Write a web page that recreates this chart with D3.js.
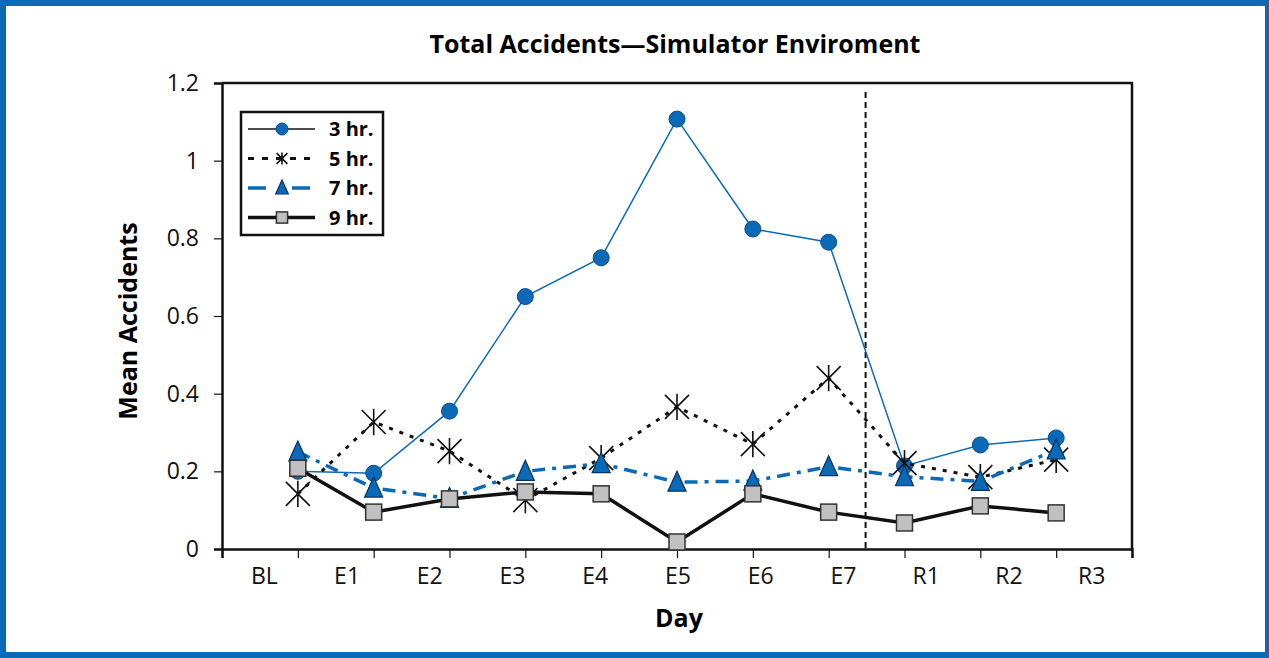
<!DOCTYPE html>
<html lang="en">
<head>
<meta charset="utf-8">
<title>Total Accidents - Simulator Enviroment</title>
<script src="https://d3js.org/d3.v7.min.js"></script>
<style>
  body { margin: 0; background: #fff; }
  svg { display: block; font-family: "Open Sans", "Noto Sans", sans-serif; }
  .axis text { font-family: "Open Sans", "Noto Sans", sans-serif; font-size: 23px; fill: #111; }
  .axis path, .axis line { stroke: #111; }
</style>
</head>
<body>
<script>
// data
var days = ["BL", "E1", "E2", "E3", "E4", "E5", "E6", "E7", "R1", "R2", "R3"];
var yTicks = [0, 0.2, 0.4, 0.6, 0.8, 1, 1.2];
var hr3 = [0.20, 0.195, 0.355, 0.65, 0.75, 1.107, 0.824, 0.79, 0.214, 0.268, 0.286];
var hr5 = [0.142, 0.327, 0.252, 0.126, 0.234, 0.366, 0.27, 0.44, 0.221, 0.185, 0.23];
var hr7 = [0.25, 0.157, 0.13, 0.20, 0.22, 0.172, 0.175, 0.212, 0.186, 0.174, 0.255];
var hr9 = [0.208, 0.095, 0.129, 0.147, 0.142, 0.018, 0.142, 0.095, 0.067, 0.111, 0.093];
var seriesNames = ["3 hr.", "5 hr.", "7 hr.", "9 hr."];

var width = 1269, height = 658;
var blue = "#0a6ab8";

var svg = d3.select("body").append("svg")
    .attr("width", width)
    .attr("height", height);

// outer blue frame
svg.append("rect")
    .attr("x", 3).attr("y", 3)
    .attr("width", 1265).attr("height", 652)
    .attr("fill", "none")
    .attr("stroke", blue)
    .attr("stroke-width", 6);

var plotL = 222, plotR = 1132, plotT = 83, plotB = 549;

// points sit on ticks -1..11, labels sit in 11 bands
var x = d3.scaleLinear().domain([-1, 11]).range([plotL, plotR]);
var xLab = d3.scaleBand().domain(days).range([plotL, plotR]);
var y = d3.scaleLinear().domain([0, 1.2]).range([plotB, plotT]);

// plot box top and right
svg.append("path")
    .attr("d", "M" + plotL + "," + plotT + "H" + plotR + "V" + plotB)
    .attr("fill", "none")
    .attr("stroke", "#111")
    .attr("stroke-width", 2.5);

// y axis
var yAxis = svg.append("g")
    .attr("class", "axis")
    .attr("transform", "translate(" + plotL + ",0)")
    .call(d3.axisLeft(y).tickValues(yTicks).tickSize(8).tickPadding(15)
        .tickFormat(function(d) { return String(+d.toFixed(1)); }));
yAxis.select(".domain").attr("stroke-width", 2.5);
yAxis.selectAll(".tick line").attr("stroke-width", 1.2);

// x axis ticks
var xAxis = svg.append("g")
    .attr("class", "axis")
    .attr("transform", "translate(0," + plotB + ")")
    .call(d3.axisBottom(x).ticks(12).tickSize(9).tickFormat(""));
xAxis.select(".domain").attr("stroke-width", 2.5);
xAxis.selectAll(".tick line").attr("stroke-width", 1.2);

// x labels
svg.append("g").attr("class", "axis").selectAll("text")
    .data(days)
    .enter().append("text")
    .attr("x", function(d) { return xLab(d) + xLab.bandwidth() / 2 + 1; })
    .attr("y", plotB + 35)
    .attr("text-anchor", "middle")
    .text(function(d) { return d; });

// dashed separator between E7 and R1
svg.append("line")
    .attr("x1", (x(7) + x(8)) / 2 - 1).attr("x2", (x(7) + x(8)) / 2 - 1)
    .attr("y1", plotT + 9).attr("y2", plotB)
    .attr("stroke", "#111")
    .attr("stroke-width", 2)
    .attr("stroke-dasharray", "6,4");

// titles
svg.append("text")
    .attr("x", 675).attr("y", 53)
    .attr("text-anchor", "middle")
    .attr("font-size", 25).attr("font-weight", "bold")
    .text("Total Accidents\u2014Simulator Enviroment");

svg.append("text")
    .attr("transform", "translate(137,321) rotate(-90)")
    .attr("text-anchor", "middle")
    .attr("font-size", 25).attr("font-weight", "bold")
    .text("Mean Accidents");

svg.append("text")
    .attr("x", 679).attr("y", 627)
    .attr("text-anchor", "middle")
    .attr("font-size", 25).attr("font-weight", "bold")
    .text("Day");

// marker drawers
function drawMarker(g, type, s) {
    if (type === "circle") {
        g.append("circle").attr("r", 8 * s)
            .attr("fill", blue).attr("stroke", "#0a4f8a").attr("stroke-width", 1);
    } else if (type === "star") {
        var r = 12 * s;
        g.append("path")
            .attr("d", "M" + (-r) + "," + (-r) + "L" + r + "," + r +
                       "M" + r + "," + (-r) + "L" + (-r) + "," + r +
                       "M0," + (-r * 1.1) + "V" + (r * 1.1))
            .attr("stroke", "#111").attr("stroke-width", 1.6).attr("fill", "none");
    } else if (type === "triangle") {
        var h = 10 * s, w = 9 * s;
        g.append("path")
            .attr("d", "M0," + (-h - 1) + "L" + w + "," + (h - 1) + "L" + (-w) + "," + (h - 1) + "Z")
            .attr("fill", blue).attr("stroke", "#06325e").attr("stroke-width", 1.2);
    } else {
        var q = 8 * s;
        g.append("rect").attr("x", -q).attr("y", -q).attr("width", 2 * q).attr("height", 2 * q)
            .attr("fill", "#c0c0c0").attr("stroke", "#333").attr("stroke-width", 1.5);
    }
}

var series = [
    { name: seriesNames[0], values: hr3, color: blue, width: 1.5, dash: null, marker: "circle" },
    { name: seriesNames[1], values: hr5, color: "#111", width: 3, dash: "4,7", marker: "star" },
    { name: seriesNames[2], values: hr7, color: blue, width: 3.5, dash: "13,7,4,7", marker: "triangle" },
    { name: seriesNames[3], values: hr9, color: "#111", width: 3.5, dash: null, marker: "square" }
];

var line = d3.line()
    .x(function(d, i) { return x(i); })
    .y(function(d) { return y(d); });

series.forEach(function(s) {
    var g = svg.append("g");
    g.append("path")
        .datum(s.values)
        .attr("d", line)
        .attr("fill", "none")
        .attr("stroke", s.color)
        .attr("stroke-width", s.width)
        .attr("stroke-dasharray", s.dash);
    s.values.forEach(function(v, i) {
        var m = g.append("g").attr("transform", "translate(" + x(i) + "," + y(v) + ")");
        drawMarker(m, s.marker, 1);
    });
});

// legend
var leg = svg.append("g").attr("transform", "translate(241,112)");
leg.append("rect")
    .attr("width", 142).attr("height", 123)
    .attr("fill", "#fff")
    .attr("stroke", "#111")
    .attr("stroke-width", 2.5);

var legColor = ["#111", "#111", blue, "#111"];
var legWidth = [1.3, 3, 3.5, 3.5];
var legDash = [null, "6,8", "18,26", null];
var legScale = [0.75, 0.45, 0.7, 0.7];
series.forEach(function(s, i) {
    var row = leg.append("g").attr("transform", "translate(0," + (17 + i * 29.5) + ")");
    row.append("line")
        .attr("x1", 7).attr("x2", 74)
        .attr("stroke", legColor[i])
        .attr("stroke-width", legWidth[i])
        .attr("stroke-dasharray", legDash[i]);
    var m = row.append("g").attr("transform", "translate(41,0)");
    drawMarker(m, s.marker, legScale[i]);
    row.append("text")
        .attr("x", 88).attr("y", 7)
        .attr("font-size", 20).attr("font-weight", "bold")
        .text(s.name);
});
</script>
</body>
</html>
